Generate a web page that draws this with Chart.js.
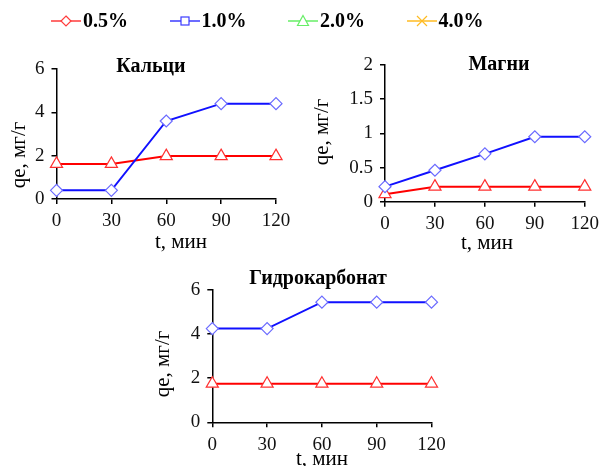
<!DOCTYPE html>
<html>
<head>
<meta charset="utf-8">
<script src="https://cdn.jsdelivr.net/npm/chart.js@4"></script>
<style>
    body { margin: 0; background: #fff; }
    #wrap { position: relative; width: 605px; height: 466px; overflow: hidden; }
    #wrap canvas { position: absolute; left: 0; top: 0; }
    .legend-item { position: absolute; top: 9px; display: flex; align-items: center; white-space: nowrap;
        font: bold 20px "Liberation Serif", "Times New Roman", serif; color: #000; }
    .legend-item svg { margin-right: 2px; }
</style>
</head>
<body>
<div id="wrap">
    <canvas id="chartCa" width="605" height="466"></canvas>
    <canvas id="chartMg" width="605" height="466"></canvas>
    <canvas id="chartHco3" width="605" height="466"></canvas>
</div>
<script>
// Dados
const times = [0, 30, 60, 90, 120];
const seriesLabels = ['0.5%', '1.0%', '2.0%', '4.0%'];
const seriesColors = ['#ff3b3b', '#3b3bff', '#66ee66', '#ffbb22'];
const legendMarkers = ['diamond', 'square', 'triangle', 'cross'];

const calcium05 = [1.62, 1.62, 1.98, 1.98, 1.98];
const calcium10 = [0.4, 0.4, 3.6, 4.4, 4.4];
const magnesium05 = [0.11, 0.22, 0.22, 0.22, 0.22];
const magnesium10 = [0.22, 0.46, 0.7, 0.95, 0.95];
const bicarbonate05 = [1.75, 1.75, 1.75, 1.75, 1.75];
const bicarbonate10 = [4.25, 4.25, 5.45, 5.45, 5.45];

const SERIF = '"Liberation Serif", "Times New Roman", serif';

// Legenda em HTML
function buildLegend() {
    const wrap = document.getElementById('wrap');
    seriesLabels.forEach((label, i) => {
        const c = seriesColors[i];
        let marker = '';
        if (legendMarkers[i] === 'diamond') {
            marker = `<polygon points="15,2 20,7 15,12 10,7" fill="#fff" stroke="${c}" stroke-width="1.2"/>`;
        } else if (legendMarkers[i] === 'square') {
            marker = `<rect x="11" y="3" width="8" height="8" fill="#fff" stroke="${c}" stroke-width="1.2"/>`;
        } else if (legendMarkers[i] === 'triangle') {
            marker = `<polygon points="15,1.5 20.5,11.5 9.5,11.5" fill="#fff" stroke="${c}" stroke-width="1.2"/>`;
        } else {
            marker = `<path d="M10,2 L20,12 M20,2 L10,12" stroke="${c}" stroke-width="1.2"/>`;
        }
        const item = document.createElement('div');
        item.className = 'legend-item';
        item.style.left = `${51 + i * 118.5}px`;
        item.innerHTML = `<svg width="30" height="14"><line x1="0" y1="7" x2="30" y2="7" stroke="${c}" stroke-width="1.5"/>${marker}</svg><span>${label}</span>`;
        wrap.appendChild(item);
    });
}

// Textos do painel (título e títulos dos eixos)
const panelText = {
    id: 'panelText',
    afterDraw(chart, args, opts) {
        const ctx = chart.ctx;
        ctx.save();
        ctx.fillStyle = '#000';
        ctx.textAlign = 'center';
        ctx.textBaseline = 'middle';
        ctx.font = `bold 20px ${SERIF}`;
        ctx.fillText(opts.title, opts.titleX, opts.titleY);
        ctx.font = `21px ${SERIF}`;
        ctx.fillText('t, мин', opts.xTitleX, opts.xTitleY);
        ctx.translate(opts.yTitleX, opts.yTitleY);
        ctx.rotate(-Math.PI / 2);
        ctx.fillText('qe, мг/г', 0, 0);
        ctx.restore();
    }
};

function toPoints(values) {
    return times.map((t, i) => ({ x: t, y: values[i] }));
}

function makeChart(id, cfg) {
    const ctx = document.getElementById(id).getContext('2d');
    return new Chart(ctx, {
        type: 'line',
        data: {
            datasets: [{
                label: seriesLabels[0],
                data: toPoints(cfg.red),
                borderColor: '#ff0000',
                borderWidth: 2,
                pointStyle: 'triangle',
                pointRadius: 7,
                pointBorderColor: '#ff3030',
                pointBackgroundColor: '#fff',
                pointBorderWidth: 1.2,
                clip: false,
                order: 2
            }, {
                label: seriesLabels[1],
                data: toPoints(cfg.blue),
                borderColor: '#1010ff',
                borderWidth: 2,
                pointStyle: 'rectRot',
                pointRadius: 6,
                pointBorderColor: '#6a6aff',
                pointBackgroundColor: '#fff',
                pointBorderWidth: 1.2,
                clip: false,
                order: 1
            }]
        },
        options: {
            responsive: false,
            animation: false,
            layout: { padding: cfg.padding },
            plugins: {
                legend: { display: false },
                tooltip: { enabled: false },
                panelText: cfg.text
            },
            scales: {
                x: {
                    type: 'linear',
                    min: 0,
                    max: 120,
                    afterFit: (scale) => { scale.height = 30; },
                    ticks: { stepSize: 30, color: '#111', padding: 6, maxRotation: 0,
                        font: { family: SERIF, size: 19 } },
                    grid: { drawOnChartArea: false, drawTicks: true, tickLength: 5, color: '#000', lineWidth: 1.5 },
                    border: { display: true, color: '#000', width: 1.5 }
                },
                y: {
                    min: 0,
                    max: cfg.yMax,
                    afterFit: (scale) => { scale.width = 40; },
                    ticks: { stepSize: cfg.yStep, color: '#111', padding: 7,
                        callback: (v) => String(v),
                        font: { family: SERIF, size: 19 } },
                    grid: { drawOnChartArea: false, drawTicks: true, tickLength: 5, color: '#000', lineWidth: 1.5 },
                    border: { display: true, color: '#000', width: 1.5 }
                }
            }
        },
        plugins: [panelText]
    });
}

document.addEventListener('DOMContentLoaded', () => {
    buildLegend();

    makeChart('chartCa', {
        red: calcium05, blue: calcium10, yMax: 6, yStep: 2,
        padding: { left: 16.5, right: 329, top: 69, bottom: 237 },
        text: { title: 'Кальци', titleX: 151, titleY: 67, xTitleX: 181, xTitleY: 242, yTitleX: 19, yTitleY: 155 }
    });

    makeChart('chartMg', {
        red: magnesium05, blue: magnesium10, yMax: 2, yStep: 0.5,
        padding: { left: 345, right: 16, top: 65, bottom: 234.3 },
        text: { title: 'Магни', titleX: 499, titleY: 65, xTitleX: 487, xTitleY: 243, yTitleX: 322, yTitleY: 132 }
    });

    makeChart('chartHco3', {
        red: bicarbonate05, blue: bicarbonate10, yMax: 6, yStep: 2,
        padding: { left: 172.3, right: 173.5, top: 290, bottom: 13.7 },
        text: { title: 'Гидрокарбонат', titleX: 318, titleY: 279, xTitleX: 322, xTitleY: 459, yTitleX: 163, yTitleY: 364 }
    });
});
</script>
</body>
</html>
